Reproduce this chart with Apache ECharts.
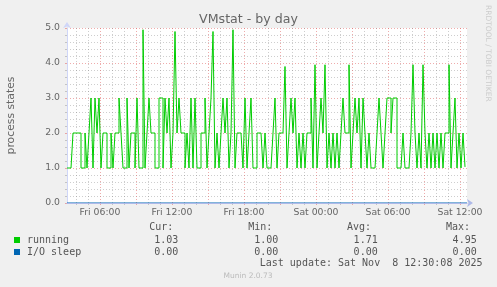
<!DOCTYPE html>
<html><head><meta charset="utf-8">
<script src="https://cdn.jsdelivr.net/npm/echarts@6/dist/echarts.min.js"></script>
<style>html,body{margin:0;padding:0;background:#f0f0f0;}#c{width:497px;height:287px;}</style>
</head><body><div id="c"></div>
<script>
// ---- data ----
const seriesNames = ['running', 'I/O sleep'];
const seriesColors = ['#00cc00', '#0066b3'];
const startHour = 3.25;      // Fri 03:15, hours counted from Fri 00:00
const stepMinutes = 10;
const running = [
  1,1,1,2,2,2,2,1,1,2,
  1,2,3,1,3,2,3,1,2,2,
  1,1,2,1,2,2,3,2,1,1,
  3,1,2,2,1,3,1,1,4.95,1,
  2,3,2,2,1,1,3,3,1,3,
  2,3,1,2,4.9,2,3,2,2,1,
  2,1,3,1,3,1,1,2,2,3,
  1,2,3,4.9,1,2,1,2,3,2,
  3,1,2,4.95,1,2,2,2,1,3,
  1,2,3,1,1,2,2,2,1,2,
  1,1,1,2,3,1,2,2,2,3.9,
  1,2,3,2,3,1,2,1,2,1,
  2,2,3,1,3.95,1,2,3,2,3.95,
  1,2,1,2,1,2,1,2,3,2,
  2,3.95,1,2,3,2,3,1,3,2,
  1,2,1,1,1,2,3,2,1,2,
  3,3,2,3,3,1,1,1,2,1,
  1,1,2,3.95,2,1,2,1,3.95,2,
  1,2,1,2,1,2,1,2,1,2,
  2,3.95,1,2,3,1,2,1,2,1.03
];
const ioSleep = [0, 0];                        // start and end of range, all zero
const xLabelHours = [6, 12, 18, 24, 30, 36];
const majorGridHours = [6, 9, 12, 15, 18, 21, 24, 27, 30, 33, 36];
const minorGridHours = [4, 5, 7, 8, 10, 11, 13, 14, 16, 17, 19, 20, 22, 23, 25, 26, 28, 29, 31, 32, 34, 35];
const statsHeader = ['Cur:', 'Min:', 'Avg:', 'Max:'];
const statsRunning = ['1.03', '1.00', '1.71', '4.95'];
const statsIoSleep = ['0.00', '0.00', '0.00', '0.00'];
const lastUpdate = 'Last update: Sat Nov  8 12:30:08 2025';

// ---- chart ----
const xMin = startHour;
const xMax = startHour + running.length * stepMinutes / 60;
const runningData = running.map((v, i) => [startHour + i * stepMinutes / 60, v]);
const ioData = [[xMin, ioSleep[0]], [xMax, ioSleep[1]]];

const FONT = '#666';
const MAJOR = 'rgba(224,90,90,0.5)';
const MINOR = 'rgba(120,120,120,0.36)';
const pad = n => (n < 10 ? '0' : '') + n;
const fmtX = v => (v < 24 ? 'Fri ' : 'Sat ') + pad(Math.round(v) % 24) + ':00';

const baseX = { type: 'value', min: xMin, max: xMax, gridIndex: 0, position: 'bottom' };

const colX = [173.3, 272.3, 371, 470];
const colV = [178.3, 278.3, 377.7, 476.7];
const graphics = [];
const monoFont = '10px "DejaVu Sans Mono"';
const txt = (t, x, y, font, fill, align) => ({ type: 'text', x: x, y: y,
  style: { text: t, font: font, fill: fill, textAlign: align, textVerticalAlign: 'middle', align: align, verticalAlign: 'middle' } });
statsHeader.forEach((t, k) => graphics.push(txt(t, colX[k], 227.5, monoFont, '#555', 'right')));
statsRunning.forEach((t, k) => graphics.push(txt(t, colV[k], 240, monoFont, '#555', 'right')));
statsIoSleep.forEach((t, k) => graphics.push(txt(t, colV[k], 252, monoFont, '#555', 'right')));
graphics.push(txt(lastUpdate, 482.5, 263.5, monoFont, '#555', 'right'));
graphics.push(txt('Munin 2.0.73', 248, 276, '7.5px "DejaVu Sans"', '#bbb', 'center'));
const rrd = txt('RRDTOOL / TOBI OETIKER', 487.5, 5, '7.5px "DejaVu Sans"', '#ccc', 'left');
rrd.rotation = -Math.PI / 2;
graphics.push(rrd);

const chart = echarts.init(document.getElementById('c'), null, { renderer: 'canvas' });
chart.setOption({
  backgroundColor: '#f0f0f0',
  animation: false,
  title: { text: 'VMstat - by day', left: 'center', top: 13, padding: 0,
    textStyle: { fontFamily: 'DejaVu Sans', fontSize: 12.6, fontWeight: 'normal', color: FONT } },
  grid: { left: 67, right: 30, top: 28, bottom: 84, containLabel: false, outerBoundsMode: 'none',
    show: true, backgroundColor: '#ffffff', borderWidth: 0 },
  legend: { orient: 'vertical', left: 14, top: 235, padding: 0, itemWidth: 6, itemHeight: 6, itemGap: 2,
    icon: 'rect', selectedMode: false, data: seriesNames,
    textStyle: { fontFamily: 'DejaVu Sans Mono', fontSize: 10, color: '#555', padding: [0, 0, 0, 2] } },
  xAxis: [
    Object.assign({}, baseX, {
      axisLine: { show: false },
      axisTick: { show: true, length: 2, customValues: majorGridHours, lineStyle: { color: MAJOR } },
      axisLabel: { customValues: xLabelHours, formatter: fmtX, color: FONT, fontFamily: 'DejaVu Sans', fontSize: 9.3, margin: 5 },
      splitLine: { show: true, lineStyle: { color: MAJOR, type: [1, 2], width: 1 } }
    }),
    Object.assign({}, baseX, {
      axisLine: { show: false },
      axisTick: { show: true, length: 2, customValues: minorGridHours, lineStyle: { color: MINOR } },
      axisLabel: { show: false },
      splitLine: { show: true, lineStyle: { color: MINOR, type: [1, 2], width: 1 } }
    }),
    Object.assign({}, baseX, {
      z: 5,
      axisLine: { show: true, lineStyle: { color: '#aeb9e8', width: 1 }, symbol: ['none', 'arrow'], symbolSize: [6, 6], symbolOffset: [0, 6] },
      axisTick: { show: false }, axisLabel: { show: false }, splitLine: { show: false }
    })
  ],
  yAxis: {
    type: 'value', min: 0, max: 5, interval: 1,
    name: 'process states', nameLocation: 'middle', nameGap: 50, nameRotate: 90,
    nameTextStyle: { fontFamily: 'DejaVu Sans', fontSize: 10.8, color: FONT },
    axisLine: { show: true, lineStyle: { color: '#cfd6f8' }, symbol: ['none', 'arrow'], symbolSize: [6, 6], symbolOffset: [0, 6] },
    axisTick: { show: true, length: 2, lineStyle: { color: MAJOR } },
    minorTick: { show: true, splitNumber: 5, length: 2, lineStyle: { color: MINOR } },
    axisLabel: { formatter: v => v.toFixed(1), margin: 7, color: FONT, fontFamily: 'DejaVu Sans', fontSize: 9.3 },
    splitLine: { show: true, lineStyle: { color: MAJOR, type: [1, 2], width: 1 } },
    minorSplitLine: { show: true, lineStyle: { color: MINOR, type: [1, 2], width: 1 } }
  },
  series: [
    { name: seriesNames[0], type: 'line', xAxisIndex: 0, data: runningData, step: 'end', showSymbol: false,
      color: seriesColors[0], lineStyle: { color: seriesColors[0], width: 1 }, itemStyle: { color: seriesColors[0] } },
    { name: seriesNames[1], type: 'line', xAxisIndex: 0, data: ioData, showSymbol: false,
      color: seriesColors[1], lineStyle: { color: seriesColors[1], width: 1 }, itemStyle: { color: seriesColors[1] } }
  ],
  graphic: graphics
});
</script></body></html>
